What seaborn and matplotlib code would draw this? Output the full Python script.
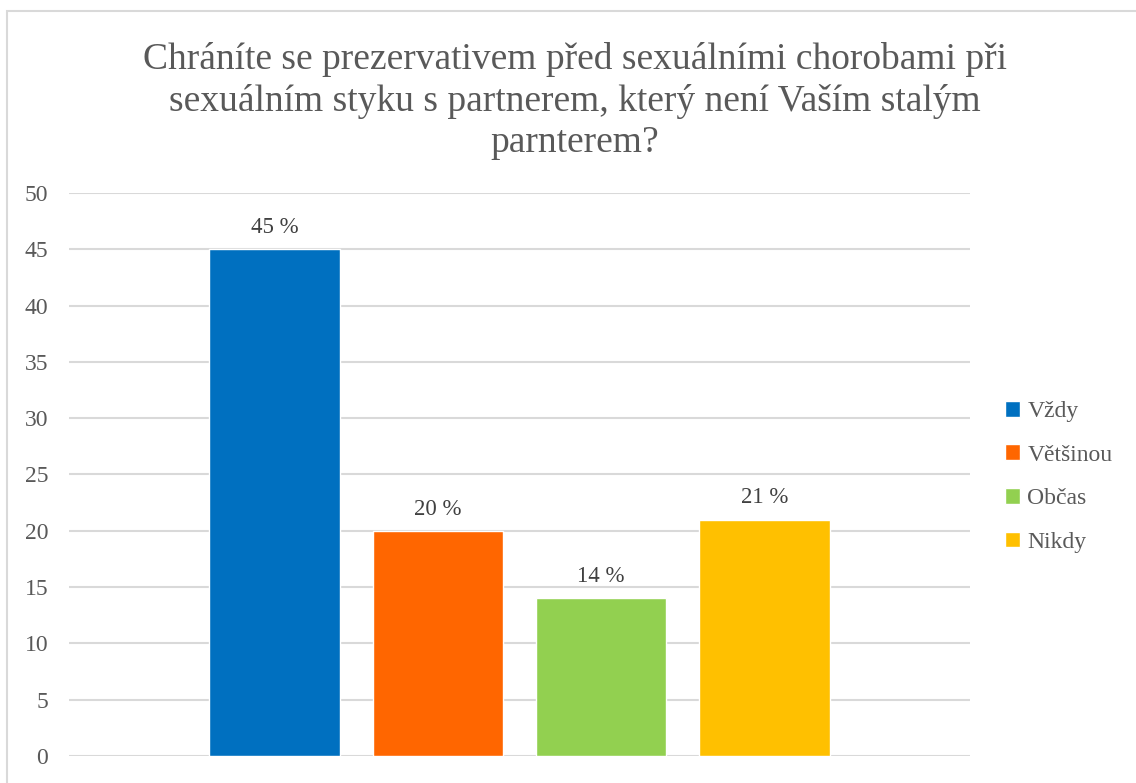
import numpy as np
import pandas as pd
import matplotlib.pyplot as plt
import seaborn as sns
from matplotlib.patches import Rectangle

answers = ['Vždy', 'Většinou', 'Občas', 'Nikdy']
percent = [45, 20, 14, 21]
colors = ['#0070C0', '#FF6600', '#92D050', '#FFC000']
title = "Chráníte se prezervativem před sexuálními chorobami při\nsexuálním styku s partnerem, který není Vaším stalým\nparnterem?"

df = pd.DataFrame({'group': [''] * len(answers), 'answer': answers, 'percent': percent})

sns.set_theme(style='white')
plt.rcParams['font.family'] = ['Liberation Serif', 'DejaVu Serif']

fig = plt.figure(figsize=(11.36, 7.83), dpi=100)
ax = fig.add_axes([0.0607, 0.0345, 0.7932, 0.719])

sns.barplot(data=df, x='group', y='percent', hue='answer', hue_order=answers,
            palette=dict(zip(answers, colors)), width=0.725, gap=0.2,
            saturation=1, ax=ax, zorder=3)

for c in ax.containers:
    ax.bar_label(c, fmt='{:g} %', padding=8, fontsize=16.5, color='#404040')

ax.set_ylim(0, 50)
ax.set_xlim(-0.5, 0.5)
ax.set_yticks(np.arange(0, 51, 5))
ax.yaxis.grid(True, color='#D9D9D9', linewidth=1.5, zorder=0)
ax.set_axisbelow(True)
ax.set_xticks([])
ax.set_xlabel('')
ax.set_ylabel('')
ax.tick_params(axis='y', labelsize=17, labelcolor='#595959', length=0, pad=15)
for s in ax.spines.values():
    s.set_visible(False)

fig.text(0.506, 1 - 101 / 783, title, ha='center', va='center', fontsize=27,
         color='#595959', linespacing=1.25)

handles, labels = ax.get_legend_handles_labels()
ax.legend(handles, labels, loc='center left', bbox_to_anchor=(0.866, 0.391),
          bbox_transform=fig.transFigure, frameon=False, fontsize=17,
          labelcolor='#595959', handlelength=0.65, handleheight=0.65,
          handletextpad=0.3, labelspacing=0.95)

fig.patches.append(Rectangle((7 / 1136, -0.01), 1.02, 1 - 11 / 783 + 0.01,
                             transform=fig.transFigure, fill=False,
                             edgecolor='#D9D9D9', linewidth=1.5))

fig.savefig('out.png', dpi=100)
